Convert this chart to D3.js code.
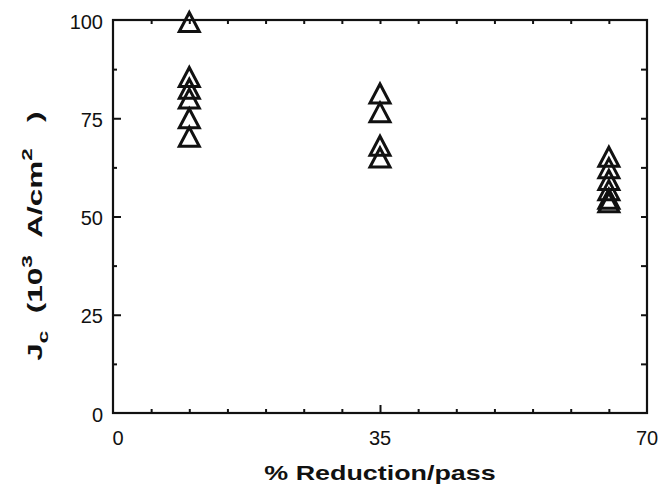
<!DOCTYPE html>
<html>
<head>
<meta charset="utf-8">
<script src="https://cdn.jsdelivr.net/npm/d3@7"></script>
<style>
  body { margin: 0; background: #fff; }
  text { font-family: "Liberation Sans", Arial, Helvetica, sans-serif; fill: #111; }
  .tick line { stroke: #111; stroke-width: 2; }
  .domain { display: none; }
</style>
</head>
<body>
<script>
// reduction per pass (%) and the measured Jc values (10^3 A/cm^2) at each
var reductions = [10, 35, 65];
var jcAt10 = [99.5, 85.5, 82.5, 80, 75, 70.3];
var jcAt35 = [81.3, 76.5, 68, 65];
var jcAt65 = [65.2, 62.3, 59.3, 56.7, 54.5, 53.6];

var xTickLabels = [0, 35, 70];
var yTickLabels = [0, 25, 50, 75, 100];

var margin = {top: 20, right: 13, bottom: 74, left: 113},
    width = 660 - margin.left - margin.right,
    height = 487 - margin.top - margin.bottom;

var svg = d3.select("body").append("svg")
    .attr("width", 660)
    .attr("height", 487)
    .append("g")
    .attr("transform", "translate(" + margin.left + "," + margin.top + ")");

var x = d3.scaleLinear().domain([0, 70]).range([0, width]);
var y = d3.scaleLinear().domain([0, 100]).range([height, 0]);

var points = [];
[jcAt10, jcAt35, jcAt65].forEach(function(vals, i) {
    vals.forEach(function(v) { points.push({r: reductions[i], jc: v}); });
});

// inward ticks
var xMinor = d3.range(5, 70, 5).filter(d => d !== 35);
svg.append("g").attr("transform", "translate(0," + height + ")")
    .call(d3.axisBottom(x).tickValues(xMinor).tickSize(-4).tickFormat(""));
svg.append("g").attr("transform", "translate(0," + height + ")")
    .call(d3.axisBottom(x).tickValues([35]).tickSize(-8).tickFormat(""));
svg.append("g")
    .call(d3.axisTop(x).tickValues(d3.range(5, 70, 5)).tickSize(-4).tickFormat(""));

var yMinor = [12.5, 37.5, 62.5, 87.5];
svg.append("g")
    .call(d3.axisLeft(y).tickValues(yMinor).tickSize(-4).tickFormat(""));
svg.append("g")
    .call(d3.axisLeft(y).tickValues([25, 50, 75]).tickSize(-8).tickFormat(""));
svg.append("g").attr("transform", "translate(" + width + ",0)")
    .call(d3.axisRight(y).tickValues(yMinor.concat([25, 50, 75])).tickSize(-6).tickFormat(""));

// frame
svg.append("rect")
    .attr("width", width)
    .attr("height", height)
    .attr("fill", "none")
    .attr("stroke", "#111")
    .attr("stroke-width", 2.2);

// tick labels
svg.selectAll(".ylab")
    .data(yTickLabels)
    .enter().append("text")
    .attr("class", "ylab")
    .attr("x", -10)
    .attr("y", d => y(d) + 8.5)
    .attr("text-anchor", "end")
    .style("font-size", "20px")
    .text(d => d);

svg.selectAll(".xlab")
    .data(xTickLabels)
    .enter().append("text")
    .attr("class", "xlab")
    .attr("x", d => x(d) + (d === 0 ? 5 : 0))
    .attr("y", height + 32)
    .attr("text-anchor", "middle")
    .style("font-size", "20px")
    .text(d => d);

// axis titles (the original lettering is wide, so stretch it sideways)
svg.append("text")
    .attr("transform", "translate(" + x(35) + "," + (height + 67) + ") scale(1.28,1)")
    .attr("text-anchor", "middle")
    .style("font-size", "21px")
    .style("font-weight", "bold")
    .text("% Reduction/pass");

var ytitle = svg.append("text")
    .attr("transform", "translate(" + (-71) + "," + (y(45)) + ") rotate(-90) scale(1.5,1)")
    .attr("text-anchor", "middle")
    .style("font-size", "21px")
    .style("font-weight", "bold");
ytitle.append("tspan").text("J");
ytitle.append("tspan").attr("dy", 6).style("font-size", "15px").text("c");
ytitle.append("tspan").attr("dy", -6).text("\u00a0\u00a0(10");
ytitle.append("tspan").attr("dy", -10).style("font-size", "15px").text("3");
ytitle.append("tspan").attr("dy", 10).text("\u00a0\u00a0A/cm");
ytitle.append("tspan").attr("dy", -10).style("font-size", "15px").text("2");
ytitle.append("tspan").attr("dy", 10).text("\u00a0\u00a0\u00a0)");

// open triangles
var tw = 20, th = 19;
function triangle() {
    var p = d3.path();
    p.moveTo(0, -th / 2);
    p.lineTo(tw / 2, th / 2);
    p.lineTo(-tw / 2, th / 2);
    p.closePath();
    return p.toString();
}

svg.selectAll(".pt")
    .data(points)
    .enter().append("path")
    .attr("class", "pt")
    .attr("d", triangle)
    .attr("transform", d => "translate(" + x(d.r) + "," + y(d.jc) + ")")
    .attr("fill", "none")
    .attr("stroke", "#111")
    .attr("stroke-width", 3)
    .attr("stroke-linejoin", "miter");
</script>
</body>
</html>
